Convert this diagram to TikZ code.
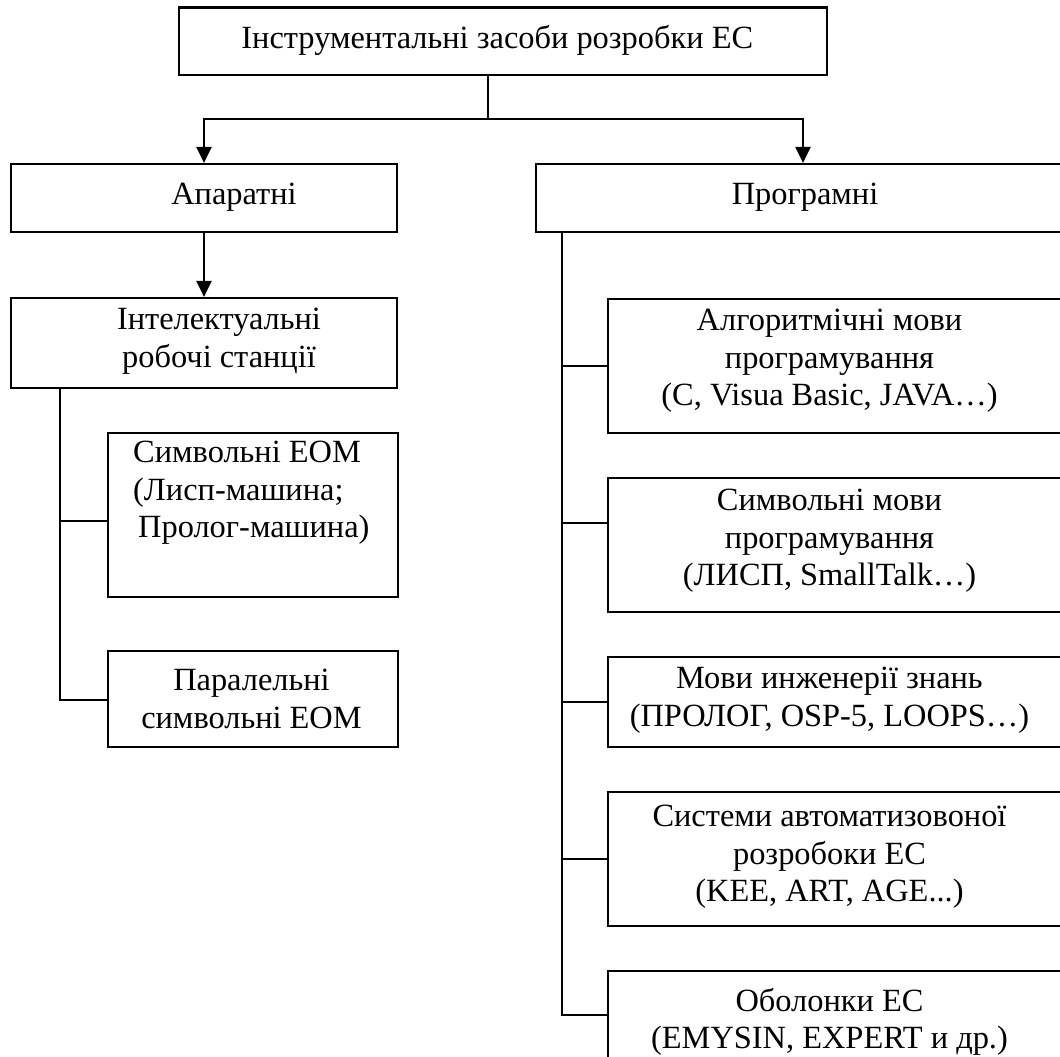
\documentclass[tikz,border=0pt]{standalone}
\usepackage{fontspec}
\setmainfont{Liberation Serif}
\usetikzlibrary{arrows.meta,calc}
\begin{document}
\begin{tikzpicture}[x=1pt,y=-1pt,
  lw/.style={line width=2.2pt},
  box/.style={draw, lw, rectangle, inner sep=0pt},
  txt/.style={inner sep=0pt, align=center,
    font=\fontsize{32.4pt}{37.5pt}\selectfont},
  link/.style={draw, lw},
  arr/.style={draw, lw, -{Triangle[length=16pt,width=15pt]}}]

\useasboundingbox (0,0) rectangle (1060,1057);
\clip (0,0) rectangle (1060,1057);

% boxes
\node[box, minimum width=648pt, minimum height=67.5pt] (top) at (503.2,41.2) {};
\node[box, minimum width=386pt, minimum height=68pt] (app)  at (204,198)    {};
\node[box, minimum width=534pt, minimum height=68pt] (prog) at (803,198)    {};
\node[box, minimum width=386pt, minimum height=90pt] (intel) at (204,343)   {};
\node[box, minimum width=290pt, minimum height=164pt] (sym) at (253,515)    {};
\node[box, minimum width=290pt, minimum height=95.5pt] (par) at (253,699)   {};
\node[box, minimum width=462pt, minimum height=134pt] (alg) at (839,366)    {};
\node[box, minimum width=462pt, minimum height=134pt] (symm) at (839,545)   {};
\node[box, minimum width=462pt, minimum height=90pt] (kn)   at (839,702)    {};
\node[box, minimum width=462pt, minimum height=134pt] (sys) at (839,859)    {};
\node[box, minimum width=462pt, minimum height=88pt] (obol) at (839,1015)   {};

% labels
\node[txt] (tTop)  at (497.3,40) {Інструментальні засоби розробки ЕС};
\node[txt] (tApp)  at (234,197) {Апаратні};
\node[txt] (tProg) at (805,197) {Програмні};
\node[txt] (tIntel) at (219,341) {Інтелектуальні\\робочі станції};
\node[txt, align=left, anchor=west] (tSym) at (133,493)
  {Символьні ЕОМ\\(Лисп-машина;\\\hspace*{5pt}Пролог-машина)};
\node[txt] (tPar)  at (251.5,699) {Паралельні\\символьні ЕОМ};
\node[txt] (tAlg)  at (829.5,361) {Алгоритмічні мови\\програмування\\(C, Visua Basic, JAVA…)};
\node[txt] (tSymm) at (829.5,541) {Символьні мови\\програмування\\(ЛИСП, SmallTalk…)};
\node[txt] (tKn)   at (829.5,700) {Мови инженерії знань\\(ПРОЛОГ, OSP-5, LOOPS…)};
\node[txt] (tSys)  at (829.5,857) {Системи автоматизовоної\\розробоки ЕС\\(KEE, ART, AGE...)};
\node[txt] (tObol) at (829.5,1022) {Оболонки ЕС\\(EMYSIN, EXPERT и др.)};

% junctions and trunks
\coordinate (j)  at (488,119);
\coordinate (lx) at (60,0);
\coordinate (rx) at (562,0);
\coordinate (symIn)  at ([yshift=-6pt]sym.west);
\coordinate (symmIn) at ([yshift=22pt]symm.west);
\coordinate (parIn)  at ([yshift=-1pt]par.west);

% top level split
\draw[link] (top.south -| j) -- (j);
\draw[arr] (j) -| (app.north);
\draw[arr] (j) -| (prog.north);

% hardware branch
\draw[arr] (app.south) -- (intel.north);
\draw[link] (intel.south -| lx) -- (lx |- parIn) -- (parIn);
\draw[link] (lx |- symIn) -- (symIn);

% software branch
\draw[link] (prog.south -| rx) -- (rx |- obol.west) -- (obol.west);
\draw[link] (rx |- alg.west) -- (alg.west);
\draw[link] (rx |- symmIn) -- (symmIn);
\draw[link] (rx |- kn.west) -- (kn.west);
\draw[link] (rx |- sys.west) -- (sys.west);
\end{tikzpicture}
\end{document}
